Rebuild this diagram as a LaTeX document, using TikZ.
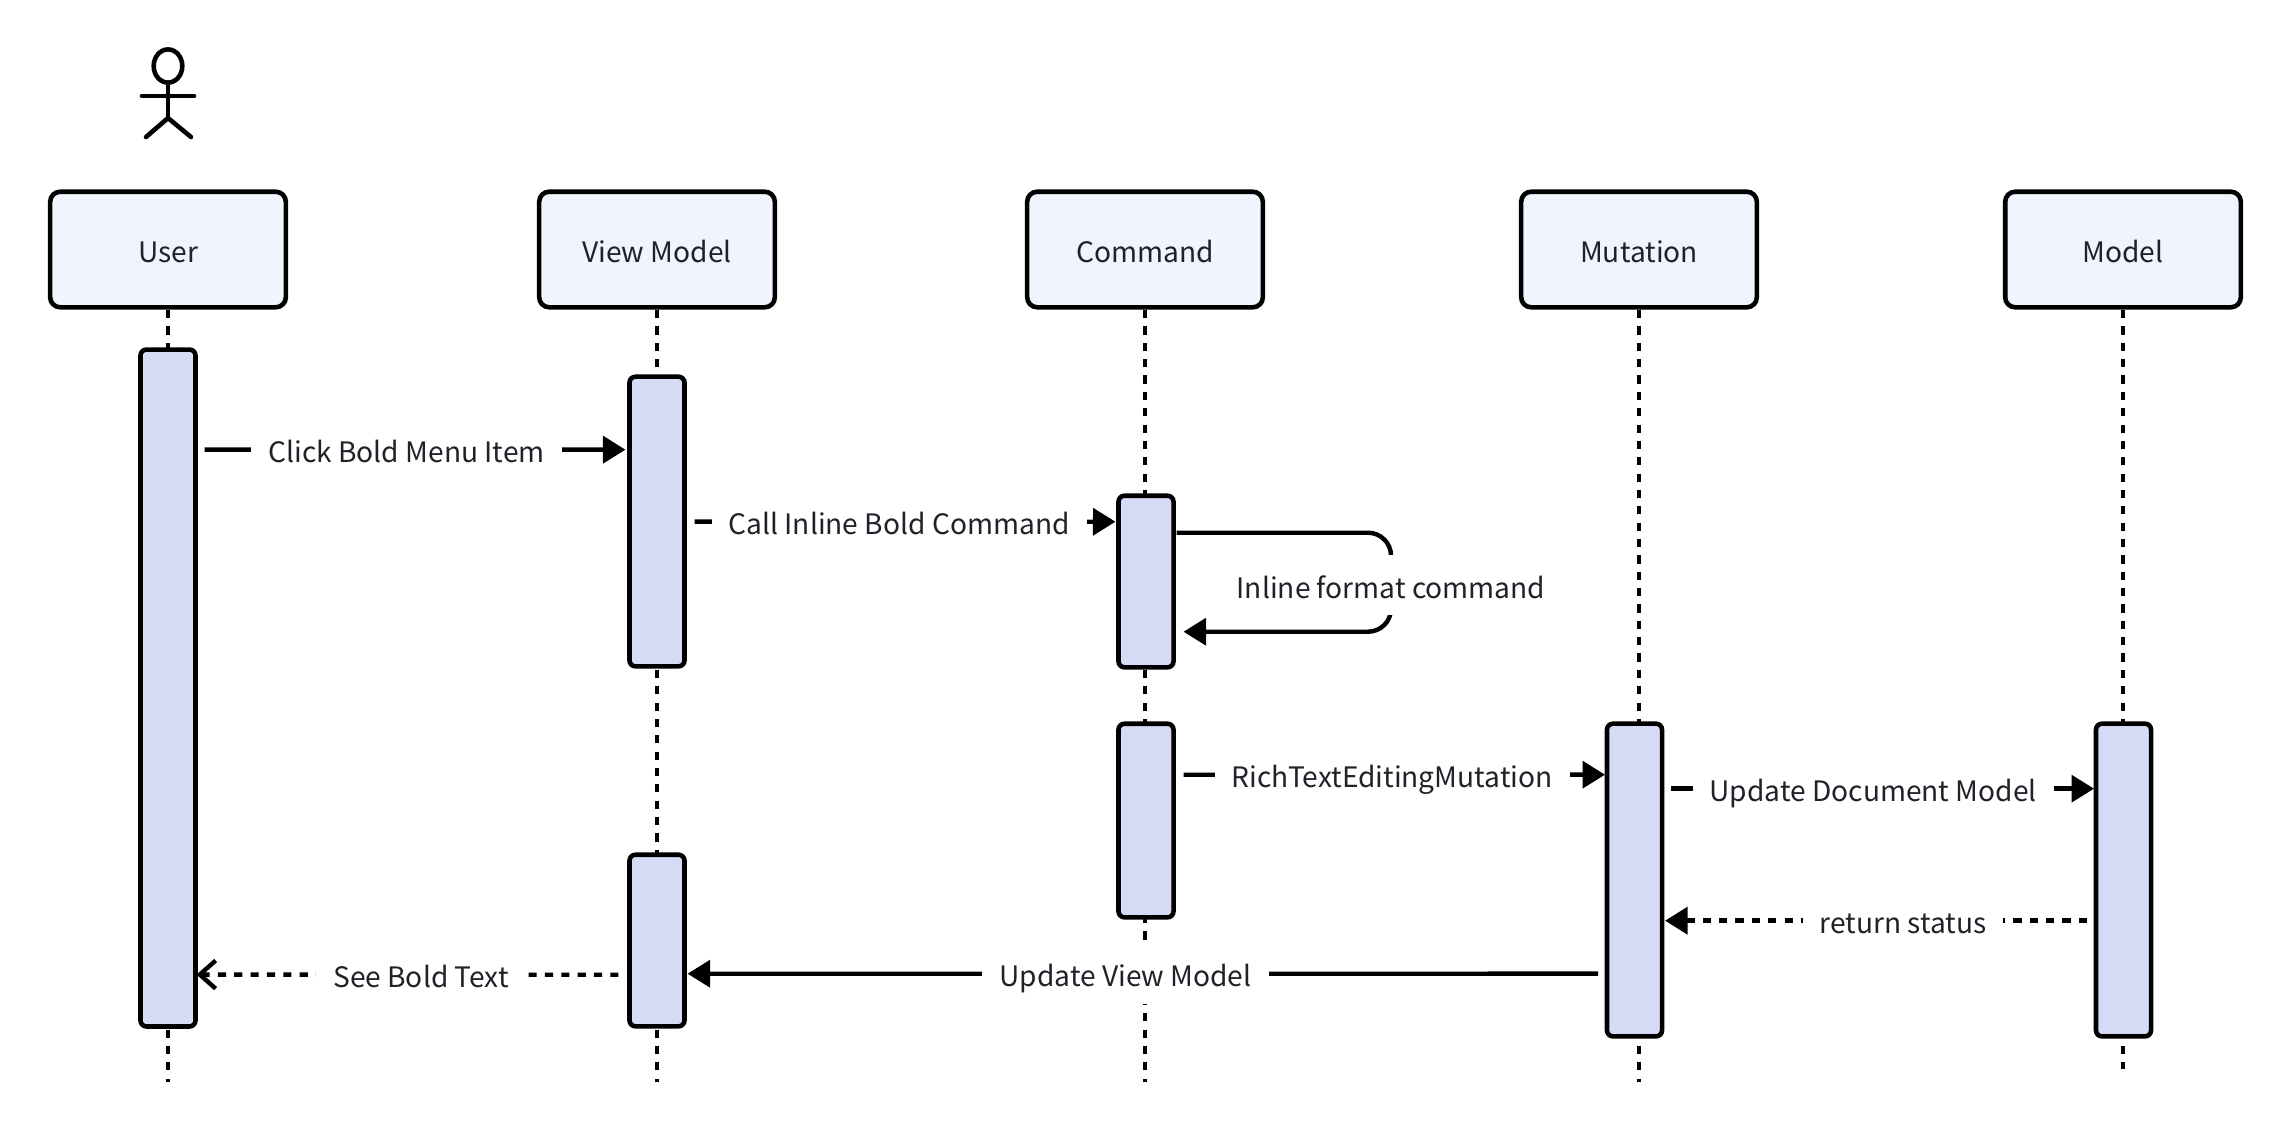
\documentclass[tikz,border=0pt]{standalone}
\usepackage{fontspec}
\setmainfont{Noto Sans CJK SC}
\usetikzlibrary{arrows.meta}
\definecolor{headfill}{HTML}{EFF4FD}
\definecolor{barfill}{HTML}{D5DBF4}
\definecolor{inkdark}{HTML}{1F2329}
\tikzset{
  header/.style={draw, line width=1.3pt, fill=headfill, rounded corners=0.1cm, outer sep=0pt, minimum width=2.355cm, minimum height=1.155cm, text height=0.25cm, text depth=0pt, text=inkdark, font=\fontsize{8}{10}\selectfont},
  actbar/.style={draw, line width=1.3pt, fill=barfill, rounded corners=0.06cm, outer sep=0pt, inner sep=0pt, minimum width=0.55cm},
  lifeline/.style={line width=1.25pt, dash pattern=on 2.325pt off 2.325pt, dash phase=3.87pt},
  msg/.style={line width=1.25pt, -{Triangle[length=6.4pt,width=7.6pt]}},
  reply/.style={msg, dash pattern=on 2.325pt off 2.325pt},
  openreply/.style={line width=1.25pt, dash pattern=on 2.325pt off 2.325pt, -{Straight Barb[length=4.5pt,width=8pt,line width=1.25pt]}},
  msglabel/.style={fill=white, inner sep=0.17cm, text height=0.26cm, text depth=0pt, text=inkdark, font=\fontsize{8}{10}\selectfont},
  stick/.style={line width=1.3pt, line cap=round}
}
\begin{document}
\begin{tikzpicture}[x=0.01cm,y=-0.01cm]
\useasboundingbox (0,0) rectangle (2292,1132);
\draw [stick] (168,66) ellipse [x radius=14.3, y radius=16.6];
\draw [stick] (168,83) -- (168,118);
\draw [stick] (142,96) -- (194,96);
\draw [stick] (146,137) -- (168,118) -- (191,137);
\node (user) at (168,249.5) [header] {User};
\node (view) at (657,249.5) [header] {View Model};
\node (command) at (1145,249.5) [header] {Command};
\node (mutation) at (1639,249.5) [header] {Mutation};
\node (model) at (2123,249.5) [header] {Model};
\coordinate (userEnd) at (168,1082);
\coordinate (viewEnd) at (657,1082);
\coordinate (commandEnd) at (1145,1082);
\coordinate (mutationEnd) at (1639,1082);
\coordinate (modelEnd) at (2123,1069);
\draw [lifeline] (user.south) -- (userEnd);
\draw [lifeline] (view.south) -- (viewEnd);
\draw [lifeline] (command.south) -- (commandEnd);
\draw [lifeline] (mutation.south) -- (mutationEnd);
\draw [lifeline] (model.south) -- (modelEnd);
\node (userBar) at (168,688) [actbar, minimum height=6.765cm] {};
\node (viewBarA) at (657,521.5) [actbar, minimum height=2.895cm] {};
\node (viewBarB) at (657,940.5) [actbar, minimum height=1.715cm] {};
\node (commandBarA) at (1146,581.5) [actbar, minimum height=1.715cm] {};
\node (commandBarB) at (1146,820.5) [actbar, minimum height=1.935cm] {};
\node (mutationBar) at (1634.5,880) [actbar, minimum height=3.125cm] {};
\node (modelBar) at (2123.5,880) [actbar, minimum height=3.125cm] {};
\draw [msg] ([shift={(9,100)}]userBar.north east) -- node [msglabel, pos=0.48] (clickLabel) {Click Bold Menu Item} ([shift={(-4,73)}]viewBarA.north west);
\draw [msg] ([shift={(10,145)}]viewBarA.north east) -- node [msglabel, pos=0.486] (callLabel) {Call Inline Bold Command} ([shift={(-3,26)}]commandBarA.north west);
\coordinate (selfTurn) at (1391,585);
\draw [msg, rounded corners=0.23cm] ([shift={(3,37)}]commandBarA.north east) -| (selfTurn) |- ([shift={(10,136)}]commandBarA.north east);
\node (selfLabel) at (selfTurn) [msglabel] {Inline format command};
\draw [msg] ([shift={(10,51)}]commandBarB.north east) -- node [msglabel, pos=0.495] (richLabel) {RichTextEditingMutation} ([shift={(-2,51)}]mutationBar.north west);
\draw [msg] ([shift={(9,65)}]mutationBar.north east) -- node [msglabel, pos=0.478] (docLabel) {Update Document Model} ([shift={(-2,65)}]modelBar.north west);
\draw [reply] ([shift={(-9,197)}]modelBar.north west) -- node [msglabel, pos=0.436] (statusLabel) {return status} ([shift={(3,197)}]mutationBar.north east);
\draw [msg] ([shift={(-9,250)}]mutationBar.north west) -- node [msglabel, pos=0.519] (updateLabel) {Update View Model} ([shift={(3,119)}]viewBarB.north east);
\draw [openreply] ([shift={(-11,120)}]viewBarB.north west) -- node [msglabel, pos=0.468] (seeLabel) {See Bold Text} ([shift={(1,625)}]userBar.north east);
\end{tikzpicture}
\end{document}
